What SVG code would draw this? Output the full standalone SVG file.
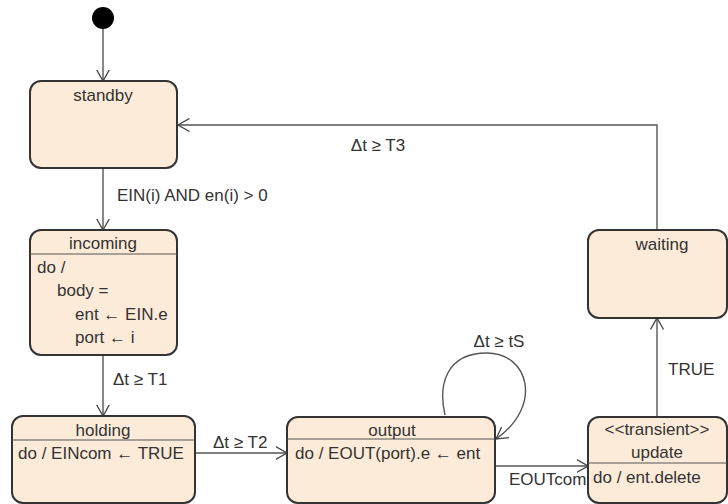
<svg xmlns="http://www.w3.org/2000/svg" width="728" height="504" viewBox="0 0 728 504">
<defs>
<marker id="arr" viewBox="0 0 12 14" refX="11.5" refY="7" markerWidth="12" markerHeight="14" markerUnits="userSpaceOnUse" orient="auto">
<path d="M0,0.5 L11.5,7 L0,13.5" fill="none" stroke="#444" stroke-width="1.3"/>
</marker>
<style>
.st{fill:#fdebd9;stroke:#333;stroke-width:2}
.sep{stroke:#555;stroke-width:1.2}
.t{font-family:"Liberation Sans",Arial,sans-serif;font-size:17px;fill:#333}
.c{text-anchor:middle}
.e{fill:none;stroke:#555;stroke-width:1.4;marker-end:url(#arr)}
</style>
</defs>
<rect width="728" height="504" fill="#fff"/>
<g id="connectors">
<line class="e" x1="103" y1="29" x2="103" y2="81"/>
<line class="e" x1="103" y1="168" x2="103" y2="230"/>
<line class="e" x1="103" y1="355" x2="103" y2="416"/>
<line class="e" x1="195" y1="453" x2="287" y2="453"/>
<line class="e" x1="495" y1="466" x2="588" y2="466"/>
<line class="e" x1="657" y1="417" x2="657" y2="318"/>
<polyline class="e" points="657,230 657,125 178,125"/>
<path class="e" d="M445,415 C438,385 446,353 487,353 C528,353 544,405 496,439"/>
<text class="t" x="117" y="201">EIN(i) AND en(i) &gt; 0</text>
<text class="t" x="113" y="385">Δt ≥ T1</text>
<text class="t" x="213" y="448">Δt ≥ T2</text>
<text class="t c" x="378" y="151">Δt ≥ T3</text>
<text class="t c" x="499" y="347">Δt ≥ tS</text>
<text class="t" x="509" y="485">EOUTcom</text>
<text class="t" x="668" y="375">TRUE</text>
</g>
<g id="initial">
<circle cx="103" cy="18" r="11" fill="#000"/>
</g>
<g id="standby">
<rect class="st" x="30" y="81" width="147" height="87" rx="11"/>
<text class="t c" x="103" y="101">standby</text>
</g>
<g id="incoming">
<rect class="st" x="30" y="230" width="147" height="125" rx="11"/>
<line class="sep" x1="30" y1="254" x2="177" y2="254"/>
<text class="t c" x="103" y="249">incoming</text>
<text class="t" x="37" y="273">do /</text>
<text class="t" x="57" y="296">body =</text>
<text class="t" x="75" y="320">ent ← EIN.e</text>
<text class="t" x="75" y="343">port ← i</text>
</g>
<g id="holding">
<rect class="st" x="12" y="416" width="183" height="87" rx="11"/>
<line class="sep" x1="12" y1="440" x2="195" y2="440"/>
<text class="t c" x="103" y="436">holding</text>
<text class="t" x="18" y="459">do / EINcom ← TRUE</text>
</g>
<g id="output">
<rect class="st" x="287" y="417" width="208" height="86" rx="11"/>
<line class="sep" x1="287" y1="439" x2="495" y2="439"/>
<text class="t c" x="392" y="436">output</text>
<text class="t" x="295" y="459">do / EOUT(port).e ← ent</text>
</g>
<g id="update">
<rect class="st" x="588" y="417" width="139" height="86" rx="11"/>
<line class="sep" x1="588" y1="463" x2="727" y2="463"/>
<text class="t c" x="657" y="435">&lt;&lt;transient&gt;&gt;</text>
<text class="t c" x="657" y="458">update</text>
<text class="t" x="593" y="483">do / ent.delete</text>
</g>
<g id="waiting">
<rect class="st" x="588" y="230" width="139" height="88" rx="11"/>
<text class="t c" x="662" y="250">waiting</text>
</g>
</svg>
